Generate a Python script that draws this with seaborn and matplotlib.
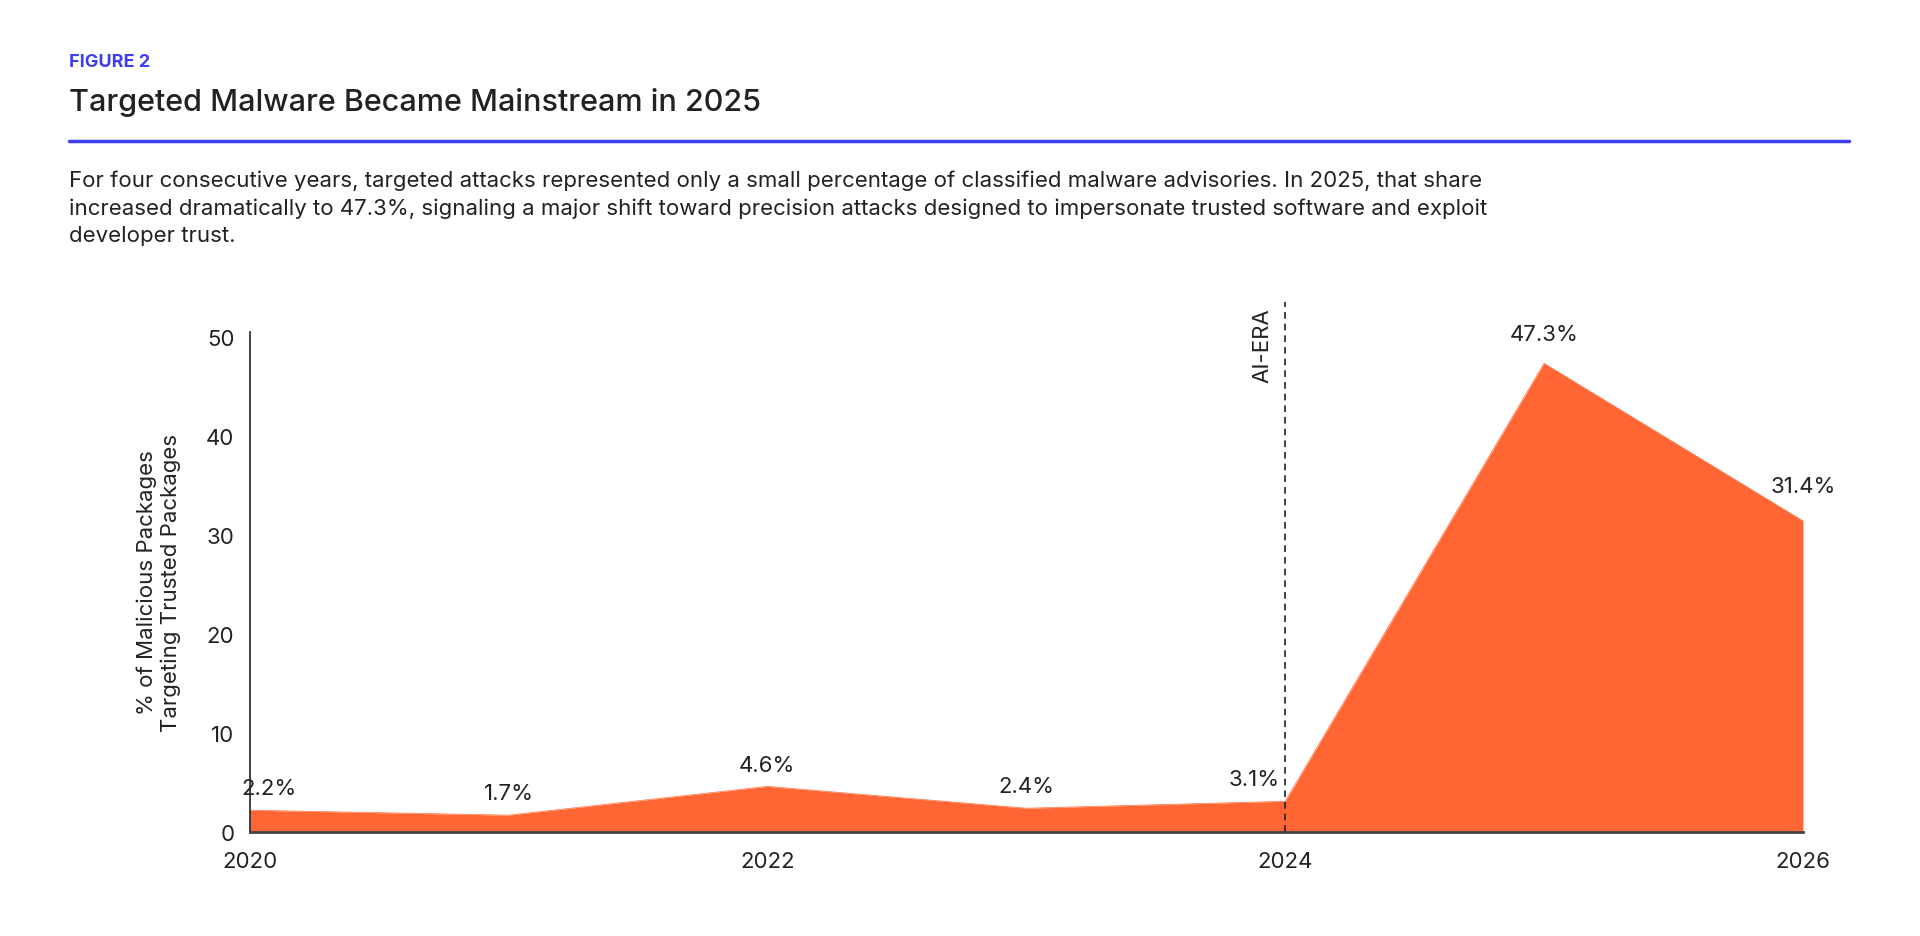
import matplotlib
matplotlib.use("Agg")
import matplotlib.pyplot as plt
import seaborn as sns
import pandas as pd

years = [2020, 2021, 2022, 2023, 2024, 2025, 2026]
share = [2.2, 1.7, 4.6, 2.4, 3.1, 47.3, 31.4]
labels = ["2.2%", "1.7%", "4.6%", "2.4%", "3.1%", "47.3%", "31.4%"]
xticks = [2020, 2022, 2024, 2026]
yticks = [0, 10, 20, 30, 40, 50]

df = pd.DataFrame({"year": years, "share": share})

sns.set_style("white")
plt.rcParams["font.family"] = ["Inter", "DejaVu Sans"]
orange = "#FF6633"
ink = "#222222"

fig = plt.figure(figsize=(19.2, 9.37), dpi=100)
ax = fig.add_axes([0.130, 0.111, 0.809, 0.534])

sns.lineplot(data=df, x="year", y="share", ax=ax, color=orange, linewidth=0.5)
ax.fill_between(df["year"], 0, df["share"], color=orange, linewidth=0)

ax.set_xlim(2020, 2026)
ax.set_ylim(0, 50.5)
ax.set_xticks(xticks)
ax.set_xticklabels([str(t) for t in xticks], fontsize=16, color=ink)
ax.set_yticks(yticks)
ax.set_yticklabels([str(t) for t in yticks], fontsize=16, color=ink)
ax.tick_params(axis="y", length=7, width=1.2, color=ink, direction="out", pad=4)
ax.tick_params(axis="x", length=0, pad=14)
for s in ["top", "right"]:
    ax.spines[s].set_visible(False)
ax.spines["left"].set_color(ink)
ax.spines["left"].set_linewidth(1.2)
ax.spines["bottom"].set_color("#444444")
ax.spines["bottom"].set_linewidth(2)
ax.set_xlabel("")
ax.set_ylabel("% of Malicious Packages\nTargeting Trusted Packages", fontsize=16,
              color=ink, labelpad=18)

offsets = [(-3, 1.2), (0, 1.2), (0, 1.2), (0, 1.2), (-2, 1.2), (0, 2.0), (0, 2.5)]
for x, y, t, (dx, dy) in zip(years, share, labels, offsets):
    ha = "left" if x == 2020 else ("right" if x == 2024 else "center")
    ax.text(x + dx * 0.01, y + dy, t, ha=ha, va="bottom", fontsize=16, color=ink)

ax.plot([2024, 2024], [0, 53.5], ls=(0, (4, 3)), color=ink, lw=1.2, clip_on=False)
ax.text(2023.95, 53, "AI-ERA", rotation=90, ha="right", va="top", fontsize=16, color=ink)

fig.text(0.036, 0.928, "FIGURE 2", fontsize=13, fontweight="bold", color="#3D3DF5")
fig.text(0.036, 0.882, "Targeted Malware Became Mainstream in 2025", fontsize=22,
         color=ink, fontweight="medium")
fig.add_artist(plt.Line2D([0.036, 0.963], [0.848, 0.848], color="#3D3DF5", lw=2.5))
para = ("For four consecutive years, targeted attacks represented only a small percentage of classified malware advisories. In 2025, that share\n"
        "increased dramatically to 47.3%, signaling a major shift toward precision attacks designed to impersonate trusted software and exploit\n"
        "developer trust.")
fig.text(0.036, 0.818, para, fontsize=16, color=ink, va="top", linespacing=1.45)

fig.savefig("out.png", dpi=100, facecolor="white")
